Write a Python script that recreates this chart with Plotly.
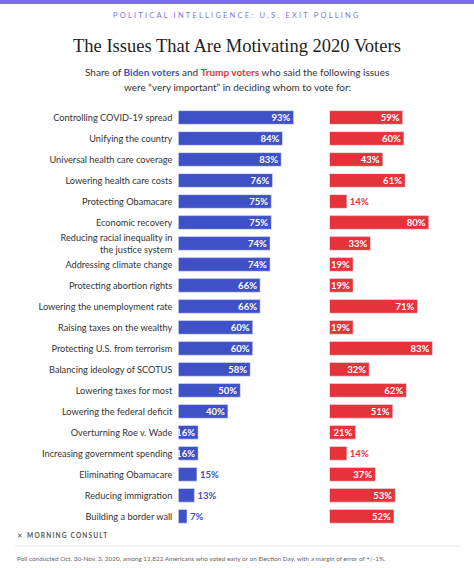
import plotly.graph_objects as go

issues = [
    "Controlling COVID-19 spread",
    "Unifying the country",
    "Universal health care coverage",
    "Lowering health care costs",
    "Protecting Obamacare",
    "Economic recovery",
    "Reducing racial inequality in<br>the justice system",
    "Addressing climate change",
    "Protecting abortion rights",
    "Lowering the unemployment rate",
    "Raising taxes on the wealthy",
    "Protecting U.S. from terrorism",
    "Balancing ideology of SCOTUS",
    "Lowering taxes for most",
    "Lowering the federal deficit",
    "Overturning Roe v. Wade",
    "Increasing government spending",
    "Eliminating Obamacare",
    "Reducing immigration",
    "Building a border wall",
]
biden = [93, 84, 83, 76, 75, 75, 74, 74, 66, 66, 60, 60, 58, 50, 40, 16, 16, 15, 13, 7]
trump = [59, 60, 43, 61, 14, 80, 33, 19, 19, 71, 19, 83, 32, 62, 51, 21, 14, 37, 53, 52]

BLUE = "#4051C8"
RED = "#E5323B"
W, H = 474, 568

def pos(vals):
    return ["inside" if v >= 16 else "outside" for v in vals]

fig = go.Figure()
fig.add_trace(go.Bar(
    y=issues, x=biden, orientation="h", marker_color=BLUE, width=0.65,
    text=[f"{v}%" for v in biden], textposition=pos(biden), insidetextanchor="end",
    insidetextfont=dict(color="white", size=9.5, family="Lato", weight="bold"),
    outsidetextfont=dict(color=BLUE, size=9.5, family="Lato", weight="bold"),
    cliponaxis=False, xaxis="x", yaxis="y", hoverinfo="skip",
))
fig.add_trace(go.Bar(
    y=issues, x=trump, orientation="h", marker_color=RED, width=0.65,
    text=[f"{v}%" for v in trump], textposition=pos(trump), insidetextanchor="end",
    insidetextfont=dict(color="white", size=9.5, family="Lato", weight="bold"),
    outsidetextfont=dict(color=RED, size=9.5, family="Lato", weight="bold"),
    cliponaxis=False, xaxis="x2", yaxis="y2", hoverinfo="skip",
))

x1_start = 178.3 / W
x2_start = 329.5 / W
span = 124.0 / W
y_top = 1 - 107.0 / H
y_bot = 1 - 526.8 / H

fig.update_layout(
    width=W, height=H, margin=dict(l=0, r=0, t=0, b=0),
    paper_bgcolor="white", plot_bgcolor="white", showlegend=False,
    uniformtext=dict(minsize=9.5, mode="show"),
    xaxis=dict(domain=[x1_start, x1_start + span], range=[0, 100], visible=False, fixedrange=True),
    xaxis2=dict(domain=[x2_start, x2_start + span], range=[0, 100], visible=False, fixedrange=True),
    yaxis=dict(domain=[y_bot, y_top], autorange="reversed", anchor="x", showgrid=False,
               showline=False, ticks="", ticklabelstandoff=5, fixedrange=True,
               tickfont=dict(family="Lato", size=9.2, color="#333333")),
    yaxis2=dict(domain=[y_bot, y_top], autorange="reversed", anchor="x2", showgrid=False,
                showticklabels=False, showline=False, ticks="", fixedrange=True),
    font=dict(family="Lato", color="#333333"),
)

def py(px):
    return 1 - px / H

# top band
fig.add_shape(type="rect", xref="paper", yref="paper", x0=0, x1=1, y0=py(4), y1=1,
              fillcolor="#7B6CF0", line_width=0, layer="above")
# divider line
fig.add_shape(type="line", xref="paper", yref="paper", x0=15 / W, x1=460 / W, y0=py(546), y1=py(546),
              line=dict(color="#E6E6E6", width=1))

ann = [
    dict(text="<span style='letter-spacing:2.2px'>POLITICAL INTELLIGENCE: U.S. EXIT POLLING</span>",
         x=0.5, y=py(16), font=dict(family="Lato", size=7.5, color="#8176E0")),
    dict(text="The Issues That Are Motivating 2020 Voters", x=0.5, y=py(46),
         font=dict(family="Liberation Serif", size=18.5, color="#222222")),
    dict(text="Share of <b><span style='color:%s'>Biden voters</span></b> and "
              "<b><span style='color:%s'>Trump voters</span></b> who said the following issues" % (BLUE, RED),
         x=0.5, y=py(72), font=dict(family="Lato", size=10, color="#333333")),
    dict(text="were “very important” in deciding whom to vote for:", x=0.5, y=py(87),
         font=dict(family="Lato", size=10, color="#333333")),
]
for a in ann:
    fig.add_annotation(xref="paper", yref="paper", xanchor="center", yanchor="middle",
                       showarrow=False, **a)

fig.add_annotation(xref="paper", yref="paper", x=15 / W, y=py(535), xanchor="left", yanchor="middle",
                   showarrow=False,
                   text="<span style='letter-spacing:1.2px'>✕ <b>MORNING CONSULT</b></span>",
                   font=dict(family="Lato", size=6.5, color="#555555"))
fig.add_annotation(xref="paper", yref="paper", x=15 / W, y=py(558), xanchor="left", yanchor="middle",
                   showarrow=False,
                   text="Poll conducted Oct. 30-Nov. 3, 2020, among 11,822 Americans who voted early or on Election Day, with a margin of error of +/-1%.",
                   font=dict(family="Lato", size=6.4, color="#666666"))

fig.write_html("out.html", config={"displayModeBar": False},
               post_script="document.body.style.margin='0';document.body.style.padding='0';")
